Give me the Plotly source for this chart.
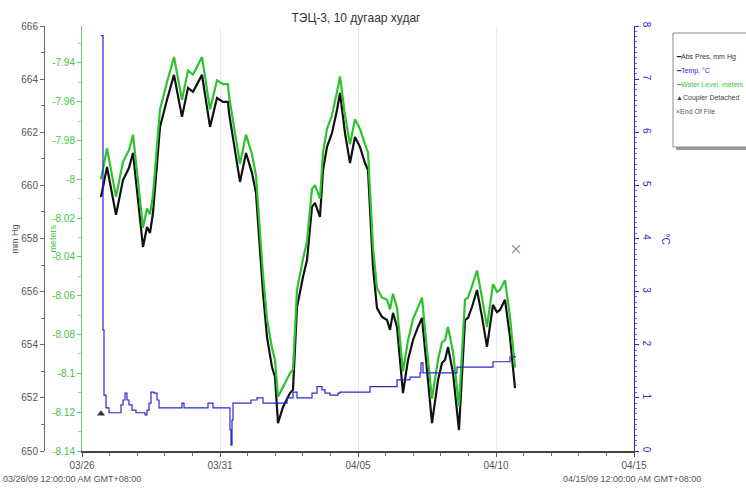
import plotly.graph_objects as go
import pandas as pd

START = pd.Timestamp("2009-03-26 00:00")
FONT = "Liberation Sans, Arial, sans-serif"

# logger samples, days since 03/26/09 00:00
level_days = [0.688, 0.906, 1.232, 1.486, 1.630, 1.703, 1.848, 2.210, 2.355, 2.464,
              2.572, 2.826, 3.080, 3.333, 3.623, 3.841, 4.022, 4.348, 4.638, 4.891,
              5.109, 5.290, 5.326, 5.725, 5.942, 6.159, 6.304, 6.558, 6.703, 6.884,
              6.993, 7.101, 7.283, 7.536, 7.645, 7.790, 8.007, 8.152, 8.333, 8.442,
              8.623, 8.732, 8.877, 9.058, 9.239, 9.348, 9.529, 9.710, 9.891, 10.072,
              10.254, 10.362, 10.543, 10.688, 10.870, 11.051, 11.159, 11.268, 11.413, 11.630,
              11.812, 11.993, 12.174, 12.319, 12.500, 12.681, 12.899, 13.043, 13.152, 13.261,
              13.442, 13.659, 13.877, 13.986, 14.130, 14.312, 14.493, 14.674, 14.891, 15.036,
              15.145, 15.326, 15.507, 15.688]
abs_pres = [659.56, 660.69, 658.89, 660.20, 660.50, 660.66, 661.22, 657.68, 658.43, 658.21,
            658.96, 662.20, 663.22, 664.16, 662.58, 663.67, 663.52, 664.16, 662.20, 663.29,
            663.14, 663.14, 662.73, 660.13, 661.22, 660.47, 659.71, 655.95, 654.29, 653.16,
            652.79, 651.05, 651.66, 652.18, 652.30, 655.42, 656.55, 657.19, 659.19, 659.34,
            658.81, 660.58, 661.45, 661.97, 662.84, 663.48, 661.97, 660.84, 661.82, 661.45,
            660.84, 660.58, 656.93, 655.38, 655.05, 654.93, 654.56, 655.20, 654.67, 652.18,
            653.43, 654.18, 654.67, 655.01, 653.05, 651.05, 652.67, 653.31, 653.43, 653.92,
            652.94, 650.79, 654.93, 655.01, 655.42, 656.06, 655.05, 653.92, 655.50, 655.23,
            655.31, 655.69, 654.29, 652.37]
water_level = [-8.000, -7.984, -8.009, -7.991, -7.987, -7.985, -7.977, -8.025, -8.015, -8.018,
               -8.008, -7.964, -7.950, -7.937, -7.959, -7.944, -7.946, -7.937, -7.964, -7.949,
               -7.951, -7.951, -7.957, -7.992, -7.977, -7.987, -7.998, -8.049, -8.072, -8.087,
               -8.093, -8.112, -8.107, -8.100, -8.098, -8.057, -8.041, -8.032, -8.005, -8.003,
               -8.010, -7.986, -7.974, -7.967, -7.955, -7.947, -7.967, -7.982, -7.969, -7.974,
               -7.982, -7.986, -8.035, -8.056, -8.061, -8.062, -8.067, -8.059, -8.066, -8.099,
               -8.083, -8.072, -8.066, -8.061, -8.088, -8.113, -8.093, -8.084, -8.083, -8.076,
               -8.089, -8.117, -8.062, -8.061, -8.055, -8.047, -8.061, -8.076, -8.054, -8.058,
               -8.057, -8.052, -8.071, -8.097]

temp_days = [0.688, 0.761, 0.797, 0.870, 0.978, 1.377, 1.413, 1.486, 1.558, 1.630,
             1.703, 1.812, 1.957, 2.283, 2.355, 2.428, 2.500, 2.609, 2.717, 2.790,
             3.623, 3.696, 4.565, 4.746, 5.362, 5.399, 5.435, 5.471, 6.123, 6.341,
             6.558, 7.428, 7.645, 7.790, 8.333, 8.514, 8.696, 8.804, 8.986, 9.275,
             9.348, 10.435, 11.413, 11.884, 12.246, 12.283, 12.355, 13.587, 14.891, 15.507,
             15.725]
temp_c = [7.82, 2.28, 1.05, 0.81, 0.72, 0.72, 0.87, 0.96, 1.09, 0.96,
          0.87, 0.77, 0.72, 0.68, 0.77, 0.90, 1.11, 1.09, 0.96, 0.81,
          0.90, 0.81, 0.90, 0.81, 0.40, 0.11, 0.58, 0.90, 0.96, 1.00,
          0.90, 1.00, 1.11, 1.00, 1.09, 1.21, 1.15, 1.09, 1.05, 1.09,
          1.11, 1.21, 1.34, 1.39, 1.47, 1.66, 1.47, 1.58, 1.68, 1.77,
          1.77]

coupler_days = [0.688]
coupler_temp = [0.70]
eof_days = [15.725]
eof_pres = [657.6]

pres_ticks = [650, 652, 654, 656, 658, 660, 662, 664, 666]
level_ticks = [-7.94, -7.96, -7.98, -8.0, -8.02, -8.04, -8.06, -8.08, -8.1, -8.12, -8.14]
level_labels = ["-7.94", "-7.96", "-7.98", "-8", "-8.02", "-8.04", "-8.06", "-8.08", "-8.1", "-8.12", "-8.14"]
date_ticks = ["2009-03-26", "2009-03-31", "2009-04-05", "2009-04-10", "2009-04-15"]
date_labels = ["03/26", "03/31", "04/05", "04/10", "04/15"]

BLACK = "#111111"
BLUE = "#2a2ad0"
GREEN = "#2fc22f"
W, H = 746, 491


def to_time(days):
    return START + pd.to_timedelta(days, unit="D")


fig = go.Figure()
fig.add_trace(go.Scatter(x=to_time(level_days), y=abs_pres, mode="lines", yaxis="y",
                         line=dict(color=BLACK, width=2.2), name="Abs Pres, mm Hg"))
fig.add_trace(go.Scatter(x=to_time(level_days), y=water_level, mode="lines", yaxis="y2",
                         line=dict(color=GREEN, width=2.2), name="Water Level, meters"))
fig.add_trace(go.Scatter(x=to_time(temp_days), y=temp_c, mode="lines", yaxis="y3",
                         line=dict(color=BLUE, width=1.2, shape="hv"), name="Temp, °C"))
fig.add_trace(go.Scatter(x=to_time(coupler_days), y=coupler_temp, mode="markers", yaxis="y3",
                         marker=dict(symbol="triangle-up", size=7, color="#333333"),
                         name="Coupler Detached"))
fig.add_trace(go.Scatter(x=to_time(eof_days), y=eof_pres, mode="markers", yaxis="y",
                         marker=dict(symbol="x-thin", size=8, line=dict(color="#888888", width=1.2)),
                         name="End Of File"))

tickfont = dict(family=FONT, size=10, color="#555555")

fig.update_layout(
    width=W, height=H,
    margin=dict(l=0, r=0, t=26, b=40, autoexpand=False),
    paper_bgcolor="white", plot_bgcolor="white",
    showlegend=False,
    font=dict(family=FONT),
    title=dict(text="ТЭЦ-3, 10 дугаар худаг", x=356 / W, xanchor="center",
               y=1 - 18 / H, yanchor="middle", font=dict(family=FONT, size=12, color="#333333")),
    xaxis=dict(domain=[82 / W, 634 / W], type="date",
               range=["2009-03-26", "2009-04-15"],
               tickvals=date_ticks, ticktext=date_labels, tickfont=tickfont,
               ticks="outside", ticklen=4, tickcolor="#555555",
               showline=True, linecolor="#444444", linewidth=2,
               showgrid=True, gridcolor="#ebebeb", zeroline=False,
               minor=dict(dtick=86400000, ticks="outside", ticklen=3, tickcolor="#777777", showgrid=False)),
    yaxis=dict(range=[650, 666], anchor="free", position=44 / W, side="left",
               tickvals=pres_ticks, tickfont=tickfont,
               ticks="outside", ticklen=4, tickcolor="#666666",
               showline=True, linecolor="#666666", linewidth=1,
               showgrid=False, zeroline=False,
               minor=dict(dtick=1, ticks="outside", ticklen=3, tickcolor="#777777")),
    yaxis2=dict(range=[-8.14, -7.921], overlaying="y", anchor="x", side="left",
                tickvals=level_ticks, ticktext=level_labels,
                tickfont=dict(family=FONT, size=10, color="#44c444"),
                ticks="outside", ticklen=4, tickcolor="#66cc66",
                showline=True, linecolor="#66cc66", linewidth=1,
                showgrid=False, zeroline=False,
                minor=dict(dtick=0.01, ticks="outside", ticklen=3, tickcolor="#88dd88")),
    yaxis3=dict(range=[0, 8], overlaying="y", anchor="x", side="right",
                dtick=1, tickangle=90,
                tickfont=dict(family=FONT, size=10, color=BLUE),
                ticks="outside", ticklen=4, tickcolor=BLUE,
                showline=True, linecolor=BLUE, linewidth=1,
                showgrid=False, zeroline=False,
                minor=dict(dtick=0.1, ticks="outside", ticklen=2, tickcolor="#6666dd")),
)

# axis titles and date footers
fig.add_annotation(text="mm Hg", x=14 / W, y=0.5, xref="paper", yref="paper", textangle=-90,
                   xanchor="center", yanchor="middle",
                   showarrow=False, font=dict(family=FONT, size=9, color="#555555"))
fig.add_annotation(text="meters", x=52 / W, y=0.5, xref="paper", yref="paper", textangle=-90,
                   xanchor="center", yanchor="middle",
                   showarrow=False, font=dict(family=FONT, size=9, color="#44c444"))
fig.add_annotation(text="°C", x=665 / W, y=0.5, xref="paper", yref="paper", textangle=90,
                   xanchor="center", yanchor="middle",
                   showarrow=False, font=dict(family=FONT, size=10, color=BLUE))
foot_y = (451 - 479) / 425
fig.add_annotation(text="03/26/09 12:00:00 AM GMT+08:00", x=72 / W, y=foot_y, xref="paper", yref="paper",
                   xanchor="center", yanchor="middle",
                   showarrow=False, font=dict(family=FONT, size=9, color="#555555"))
fig.add_annotation(text="04/15/09 12:00:00 AM GMT+08:00", x=632 / W, y=foot_y, xref="paper", yref="paper",
                   xanchor="center", yanchor="middle",
                   showarrow=False, font=dict(family=FONT, size=9, color="#555555"))


# legend box (drawn by hand, it runs off the page edge like the original)
def py(pix):
    return (451 - pix) / 425


fig.add_shape(type="rect", xref="paper", yref="paper", x0=676 / W, x1=765 / W, y0=py(150), y1=py(36),
              fillcolor="#9a9a9a", line=dict(width=0), layer="above")
fig.add_shape(type="rect", xref="paper", yref="paper", x0=673 / W, x1=762 / W, y0=py(147), y1=py(33),
              fillcolor="white", line=dict(color="#8a8a8a", width=1), layer="above")

legend_rows = [
    ("<span style='color:%s'>━</span>Abs Pres, mm Hg" % BLACK, "#333333"),
    ("<span style='color:%s'>━</span>Temp, °C" % BLUE, BLUE),
    ("<span style='color:%s'>━</span>Water Level, meters" % GREEN, "#44c444"),
    ("▲Coupler Detached", "#444444"),
    ("×End Of File", "#555555"),
]
for i, (txt, col) in enumerate(legend_rows):
    fig.add_annotation(text=txt, x=674 / W, y=py(57 + 13.6 * i), xref="paper", yref="paper",
                       xanchor="left", yanchor="middle", showarrow=False,
                       font=dict(family=FONT, size=7, color=col))

# drop the default page margin so the chart sits at the window's corner
fig.write_html("out.html", config={"displayModeBar": False},
               post_script="document.body.style.margin='0';")
